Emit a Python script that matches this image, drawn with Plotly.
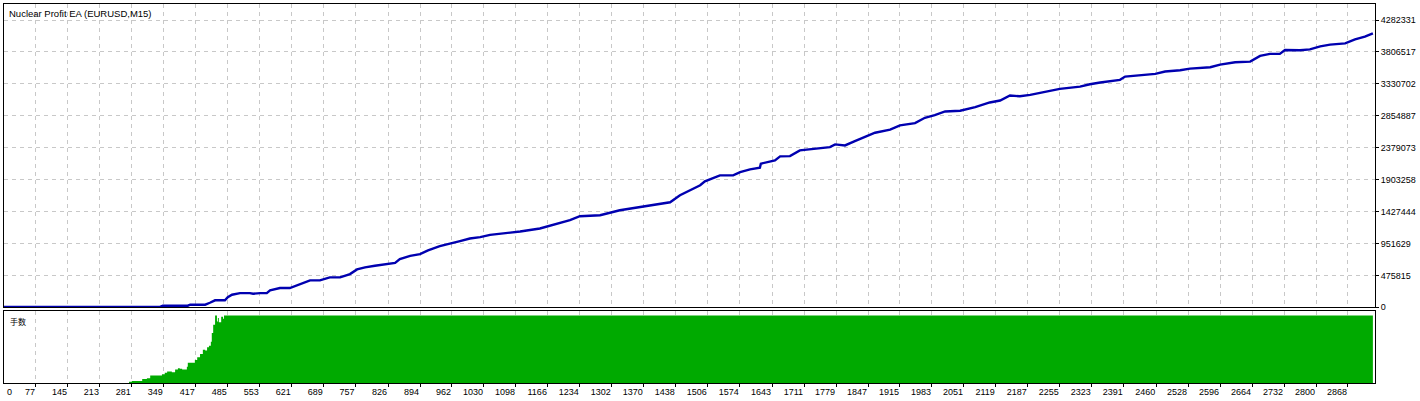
import plotly.graph_objects as go

# ---------------- data ----------------
title_text = "Nuclear Profit EA (EURUSD,M15)"
lots_label = "手数"

balance_trade = [9, 341, 347, 400, 405, 437, 447, 458, 479, 485, 494, 511, 532, 539, 554, 568, 575,
                 596, 617, 639, 660, 681, 702, 724, 734, 745, 760, 777, 798, 819, 841, 851, 873,
                 894, 911, 936, 958, 979, 1000, 1022, 1043, 1085, 1107, 1149, 1170, 1192, 1213,
                 1234, 1277, 1319, 1362, 1404, 1426, 1447, 1468, 1490, 1500, 1532, 1560, 1575,
                 1596, 1617, 1619, 1649, 1660, 1681, 1702, 1724, 1766, 1777, 1798, 1819, 1841,
                 1862, 1894, 1915, 1947, 1968, 1989, 2011, 2043, 2075, 2106, 2128, 2149, 2170,
                 2192, 2213, 2234, 2255, 2298, 2319, 2341, 2362, 2383, 2394, 2426, 2458, 2479,
                 2511, 2532, 2575, 2596, 2628, 2660, 2681, 2702, 2723, 2734, 2766, 2787, 2809,
                 2830, 2862, 2883, 2904, 2921]
balance_value = [5000, 5000, 24000, 24000, 39000, 39000, 68000, 104000, 104000, 149000, 187000,
                 212000, 212000, 202000, 212000, 212000, 253000, 287000, 287000, 346000, 401000,
                 401000, 446000, 446000, 470000, 495000, 565000, 595000, 619000, 639000, 663000,
                 718000, 767000, 793000, 848000, 911000, 946000, 986000, 1026000, 1045000,
                 1080000, 1109000, 1130000, 1175000, 1213000, 1264000, 1298000, 1358000, 1372000,
                 1447000, 1496000, 1546000, 1566000, 1670000, 1744000, 1819000, 1878000, 1967000,
                 1967000, 2016000, 2056000, 2082000, 2141000, 2190000, 2250000, 2254000, 2339000,
                 2354000, 2388000, 2428000, 2413000, 2477000, 2537000, 2602000, 2647000, 2711000,
                 2745000, 2825000, 2864000, 2919000, 2929000, 2983000, 3053000, 3082000, 3157000,
                 3146000, 3167000, 3197000, 3231000, 3256000, 3290000, 3325000, 3350000, 3375000,
                 3390000, 3439000, 3464000, 3479000, 3514000, 3533000, 3558000, 3578000, 3618000,
                 3652000, 3662000, 3747000, 3777000, 3777000, 3836000, 3831000, 3845000, 3890000,
                 3915000, 3934000, 3994000, 4034000, 4083000]

lots_trade = [275, 281, 294, 303, 313, 320, 334, 345, 351, 356, 366, 373, 379, 383, 388, 396, 398,
              400, 409, 415, 420, 426, 432, 437, 441, 445, 449, 451, 454, 458, 462, 464, 466, 471,
              475, 477, 2921]
lots_value = [2, 3, 3, 6, 7, 11, 11, 13, 15, 17, 16, 20, 22, 21, 20, 20, 24, 30, 30, 34, 38, 43,
              49, 48, 53, 55, 61, 74, 86, 100, 91, 96, 90, 98, 95, 100, 100]

x_tick_vals = [0, 77, 145, 213, 281, 349, 417, 485, 553, 621, 689, 757, 826, 894, 962, 1030, 1098,
               1166, 1234, 1302, 1370, 1438, 1506, 1574, 1643, 1711, 1779, 1847, 1915, 1983, 2051,
               2119, 2187, 2255, 2323, 2391, 2460, 2528, 2596, 2664, 2732, 2800, 2868]
y_tick_vals = [0, 475815, 951629, 1427444, 1903258, 2379073, 2854887, 3330702, 3806517, 4282331]

# ---------------- figure ----------------
W, H = 1420, 401
ML, MR, MT, MB = 4, 45, 4, 18
plot_h = H - MT - MB
top_dom = [(H - MB - 307.3) / plot_h, 1.0]
bot_dom = [0.0, (H - MB - 311) / plot_h]

grid_col = "#C8C8C8"
font_family = "Liberation Sans, Arial, sans-serif"

fig = go.Figure()
fig.add_trace(go.Scatter(
    x=balance_trade, y=balance_value, mode="lines",
    line=dict(color="#0000B0", width=2.4), xaxis="x2", yaxis="y2",
    hoverinfo="skip", showlegend=False))
fig.add_trace(go.Scatter(
    x=lots_trade, y=lots_value, mode="lines", line_shape="hv",
    line=dict(color="#00AA00", width=0), fill="tozeroy", fillcolor="#00AA00",
    xaxis="x", yaxis="y", hoverinfo="skip", showlegend=False))

x_range = [9, 2925.5]
common_x = dict(range=x_range, tickvals=x_tick_vals, showgrid=True, gridcolor=grid_col,
                griddash="4px,4px", gridwidth=1, showline=True, mirror=True,
                linecolor="black", linewidth=1, zeroline=False, automargin=False)

fig.update_layout(
    width=W, height=H,
    margin=dict(l=ML, r=MR, t=MT, b=MB, pad=0, autoexpand=False),
    paper_bgcolor="white", plot_bgcolor="white",
    font=dict(family=font_family, size=9, color="black"),
    xaxis=dict(**common_x, domain=[0, 1], anchor="y",
               ticktext=[""] + [str(v) for v in x_tick_vals[1:]],
               ticks="outside", ticklen=3, tickcolor="black",
               ticklabelposition="outside left",
               tickfont=dict(family=font_family, size=9, color="black")),
    xaxis2=dict(**common_x, domain=[0, 1], anchor="y2", matches="x",
                showticklabels=False, ticks=""),
    yaxis=dict(domain=bot_dom, anchor="x", range=[0, 106.5], side="right",
               showgrid=False, showticklabels=False, ticks="", zeroline=False,
               showline=True, mirror=True, linecolor="black", linewidth=1, automargin=False),
    yaxis2=dict(domain=top_dom, anchor="x2", range=[0, (307.3 - 4) * 4282331 / 287.3],
                side="right", tickvals=y_tick_vals, ticktext=[str(v) for v in y_tick_vals],
                showgrid=True, gridcolor=grid_col, griddash="4px,4px", gridwidth=1,
                ticks="outside", ticklen=3, tickcolor="black", zeroline=False,
                showline=True, mirror=True, linecolor="black", linewidth=1, automargin=False,
                tickfont=dict(family=font_family, size=9, color="black")),
    annotations=[
        dict(text=title_text, xref="paper", yref="paper", x=0.0, y=1.0,
             xanchor="left", yanchor="top", xshift=3, yshift=-2, showarrow=False,
             font=dict(family=font_family, size=9.5, color="black")),
        dict(text=lots_label, xref="paper", yref="paper", x=0.0, y=bot_dom[1],
             xanchor="left", yanchor="top", xshift=4, yshift=-3, showarrow=False,
             font=dict(family="Noto Sans CJK SC", size=8, color="black")),
        dict(text=str(x_tick_vals[0]), xref="paper", yref="paper", x=0.0, y=0.0,
             xanchor="left", yanchor="top", xshift=1, yshift=-2, showarrow=False,
             font=dict(family=font_family, size=9, color="black")),
    ],
)

fig.write_html("out.html",
               config={"displayModeBar": False, "staticPlot": True},
               post_script="document.body.style.margin='0';document.body.style.padding='0';")
